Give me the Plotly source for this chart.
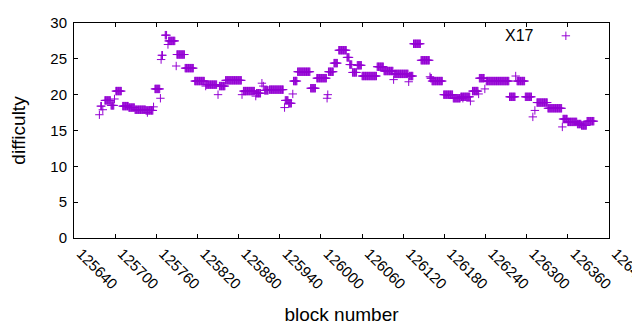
import plotly.graph_objects as go

# Runs of consecutive blocks sharing one difficulty value
run_start = [125677, 125679, 125682, 125685, 125694, 125699, 125701, 125711, 125720, 125729,
             125745, 125747, 125756, 125758, 125766, 125767, 125768, 125773, 125777, 125778,
             125789, 125790, 125802, 125816, 125832, 125833, 125850, 125852, 125861, 125885,
             125887, 125905, 125906, 125914, 125916, 125918, 125925, 125947, 125948, 125953,
             125959, 125960, 125966, 125985, 125994, 126009, 126010, 126011, 126019, 126026,
             126038, 126042, 126046, 126053, 126060, 126082, 126092, 126106, 126107, 126128,
             126129, 126135, 126146, 126159, 126160, 126162, 126179, 126193, 126204, 126207,
             126218, 126221, 126230, 126231, 126239, 126241, 126275, 126284, 126286, 126298,
             126309, 126312, 126315, 126331, 126352, 126353, 126360, 126374, 126380, 126388]
run_end = [125677, 125680, 125682, 125693, 125698, 125699, 125709, 125719, 125728, 125744,
           125755, 125747, 125756, 125765, 125766, 125767, 125769, 125775, 125777, 125787,
           125789, 125801, 125814, 125830, 125832, 125848, 125850, 125860, 125884, 125885,
           125903, 125905, 125912, 125914, 125916, 125923, 125945, 125947, 125952, 125957,
           125959, 125965, 125984, 125992, 126008, 126009, 126010, 126018, 126024, 126037,
           126041, 126045, 126052, 126059, 126081, 126091, 126105, 126106, 126127, 126128,
           126134, 126145, 126158, 126159, 126161, 126177, 126192, 126203, 126217, 126207,
           126218, 126229, 126230, 126238, 126239, 126274, 126283, 126284, 126297, 126307,
           126309, 126312, 126330, 126351, 126352, 126359, 126373, 126379, 126387, 126398]
run_value = [17.2, 18.4, 17.9, 19.2, 18.5, 19.4, 20.5, 18.4, 18.2, 17.9,
             17.8, 17.5, 18.3, 20.8, 19.5, 24.9, 25.5, 28.3, 27.0, 27.5,
             24.0, 25.6, 23.7, 21.9, 21.2, 21.4, 20.0, 21.2, 22.0, 20.0,
             20.5, 19.8, 20.2, 21.6, 21.2, 20.6, 20.7, 18.2, 19.2, 18.8,
             20.1, 21.9, 23.2, 20.9, 22.3, 19.5, 20.0, 23.2, 24.4, 26.2,
             25.2, 24.2, 23.1, 24.1, 22.6, 23.9, 23.3, 22.1, 22.9, 21.8,
             22.6, 27.1, 24.8, 22.5, 22.3, 21.9, 20.0, 19.5, 19.7, 19.5,
             19.1, 20.5, 20.1, 22.3, 20.8, 21.9, 19.7, 22.6, 21.9, 19.7,
             16.9, 17.8, 18.9, 18.1, 15.5, 16.6, 16.2, 15.9, 15.7, 16.3]

x_ticks = [125640, 125700, 125760, 125820, 125880, 125940, 126000, 126060,
           126120, 126180, 126240, 126300, 126360, 126420]
y_ticks = [0, 5, 10, 15, 20, 25, 30]

blocks, diffs = [], []
for s, e, v in zip(run_start, run_end, run_value):
    for b in range(s, e + 1):
        blocks.append(b)
        diffs.append(v)

COLOR = "#9400D3"
FONT = "Liberation Sans"

fig = go.Figure()
fig.add_trace(go.Scatter(
    x=blocks, y=diffs, mode="markers", name=" ",
    marker=dict(symbol="cross-thin", size=6, line=dict(width=1, color=COLOR), color=COLOR),
    showlegend=True,
))

axis_common = dict(showline=True, linecolor="black", linewidth=1, mirror="allticks",
                   ticks="inside", ticklen=4, tickcolor="black", showgrid=False,
                   zeroline=False, automargin=False, ticklabeloverflow="allow",
                   tickfont=dict(family=FONT, size=15, color="black"))

# The page body adds an 8px offset, so the figure is 8px smaller and margins shifted.
fig.update_layout(
    width=632, height=322,
    margin=dict(l=66, r=31, t=11, b=92),
    paper_bgcolor="white", plot_bgcolor="white",
    font=dict(family=FONT, size=16, color="black"),
    xaxis=dict(range=[125640, 126420.05], tickvals=x_ticks, ticktext=[str(t) for t in x_ticks],
               tickangle=45, ticklabelshift=7,
               title=dict(text="block number", standoff=16), **axis_common),
    yaxis=dict(range=[0, 30], tickvals=y_ticks, ticklabelstandoff=3,
               title=dict(text="difficulty", standoff=26), **axis_common),
    legend=dict(x=0.882, y=0.94, xanchor="left", yanchor="middle",
                bgcolor="rgba(0,0,0,0)", font=dict(family=FONT, size=16)),
    annotations=[dict(text="X17", xref="paper", yref="paper", x=0.864, y=0.94,
                      xanchor="right", yanchor="middle", showarrow=False,
                      font=dict(family=FONT, size=16, color="black"))],
)

fig.write_html("out.html")
